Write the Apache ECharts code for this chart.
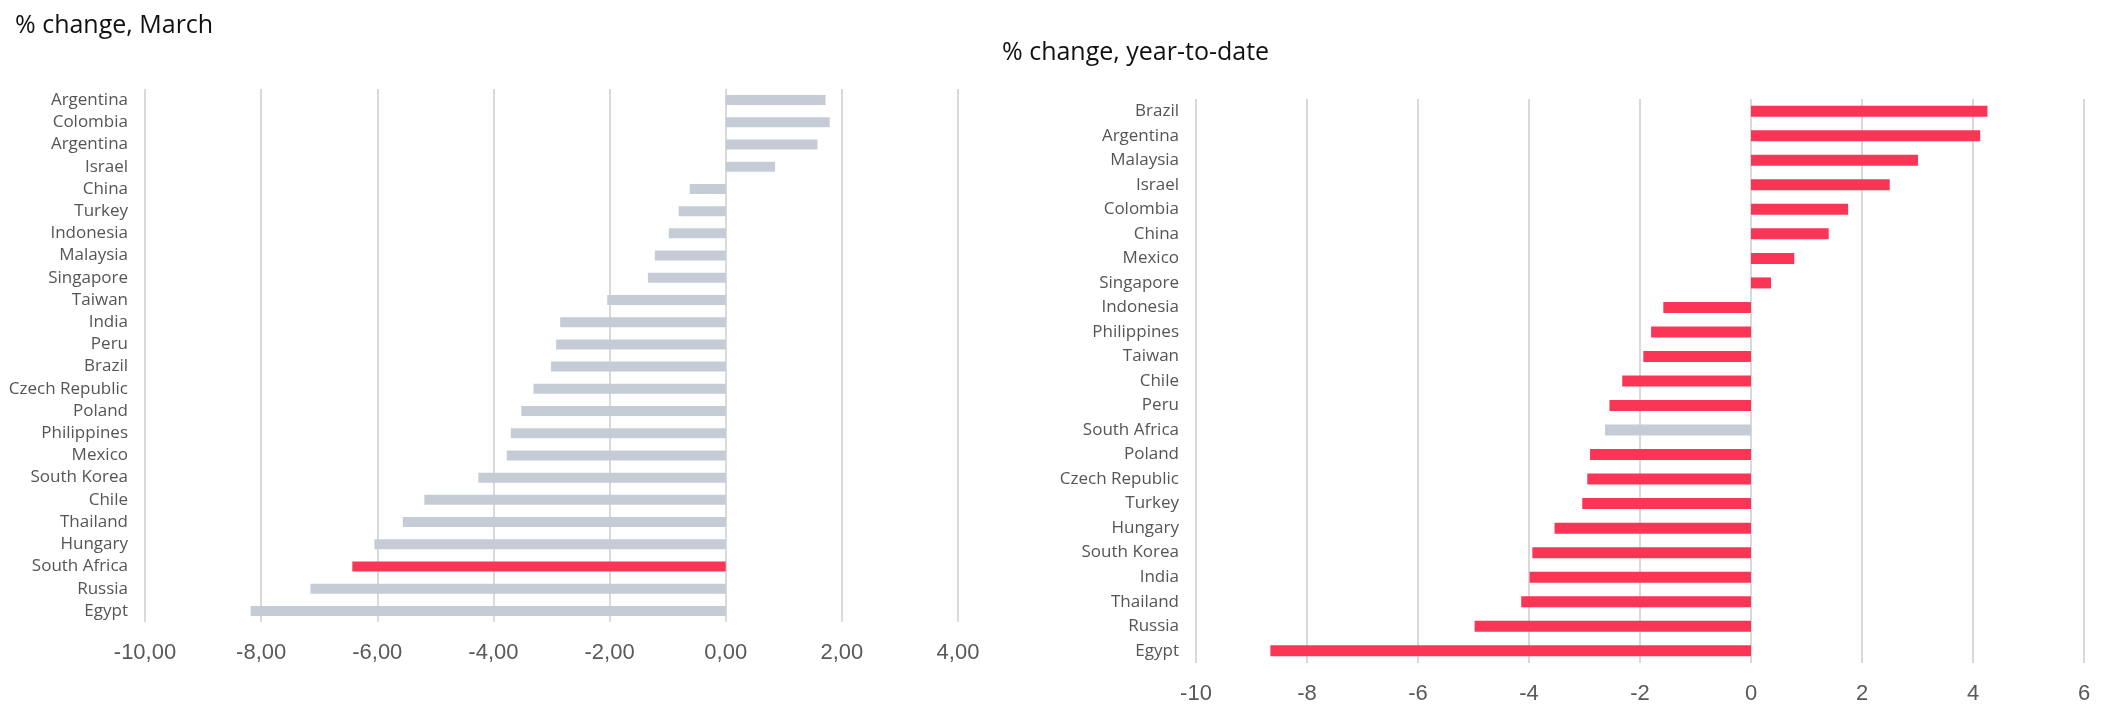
<!DOCTYPE html>
<html>
<head>
<meta charset="utf-8">
<script src="https://cdn.jsdelivr.net/npm/echarts@6/dist/echarts.min.js"></script>
<style>
html,body{margin:0;padding:0;background:#fff;}
#chart{width:2116px;height:724px;}
</style>
</head>
<body>
<div id="chart"></div>
<script>
// Left panel: % change, March
const marchCategories = ['Argentina','Colombia','Argentina','Israel','China','Turkey','Indonesia','Malaysia','Singapore','Taiwan','India','Peru','Brazil','Czech Republic','Poland','Philippines','Mexico','South Korea','Chile','Thailand','Hungary','South Africa','Russia','Egypt'];
const marchValues = [1.72,1.79,1.58,0.85,-0.62,-0.81,-0.98,-1.22,-1.34,-2.04,-2.85,-2.92,-3.01,-3.31,-3.52,-3.70,-3.77,-4.26,-5.19,-5.56,-6.05,-6.43,-7.15,-8.18];
// Right panel: % change, year-to-date
const ytdCategories = ['Brazil','Argentina','Malaysia','Israel','Colombia','China','Mexico','Singapore','Indonesia','Philippines','Taiwan','Chile','Peru','South Africa','Poland','Czech Republic','Turkey','Hungary','South Korea','India','Thailand','Russia','Egypt'];
const ytdValues = [4.26,4.13,3.01,2.50,1.75,1.40,0.78,0.36,-1.58,-1.80,-1.94,-2.32,-2.55,-2.63,-2.90,-2.95,-3.04,-3.54,-3.94,-3.99,-4.14,-4.98,-8.66];
const highlightName = 'South Africa';

const RED = '#fb3556';
const GRAY = '#c5ccd5';
const catFont = '"Open Sans", "Noto Sans", sans-serif';
const tickFont = '"Liberation Sans", Arial, sans-serif';

const chart = echarts.init(document.getElementById('chart'), null, {renderer:'canvas'});

function catAxis(gridIndex, data){
  return {
    type:'category', gridIndex, data, inverse:true,
    axisLine:{show:false}, axisTick:{show:false}, splitLine:{show:false},
    axisLabel:{color:'#555555', fontSize:17, fontFamily:catFont, margin:17}
  };
}
function valAxis(gridIndex, min, max, fmt){
  return {
    type:'value', gridIndex, min, max, interval:2,
    axisLine:{show:false}, axisTick:{show:false},
    splitLine:{show:true, lineStyle:{color:'#d9d9d9', width:2}},
    axisLabel:{color:'#595959', fontSize:22, fontFamily:tickFont, margin:20, formatter:fmt}
  };
}

chart.setOption({
  animation:false,
  backgroundColor:'#fff',
  title:[
    {text:'% change, March', left:10, top:8, textStyle:{fontFamily:catFont, fontSize:25, fontWeight:'normal', color:'#111'}},
    {text:'% change, year-to-date', left:997, top:35, textStyle:{fontFamily:catFont, fontSize:25, fontWeight:'normal', color:'#111'}}
  ],
  grid:[
    {left:145, right:1158, top:89, bottom:102, containLabel:false},
    {left:1196, right:32, top:99, bottom:61, containLabel:false}
  ],
  xAxis:[
    valAxis(0,-10,4,v=>v.toFixed(2).replace('.',',')),
    valAxis(1,-10,6,v=>String(v))
  ],
  yAxis:[catAxis(0,marchCategories), catAxis(1,ytdCategories)],
  series:[
    {type:'bar', xAxisIndex:0, yAxisIndex:0, data:marchValues, barWidth:10,
     itemStyle:{color:p=>p.name===highlightName?RED:GRAY}},
    {type:'bar', xAxisIndex:1, yAxisIndex:1, data:ytdValues, barWidth:11,
     itemStyle:{color:p=>p.name===highlightName?GRAY:RED}}
  ]
});
</script>
</body>
</html>
